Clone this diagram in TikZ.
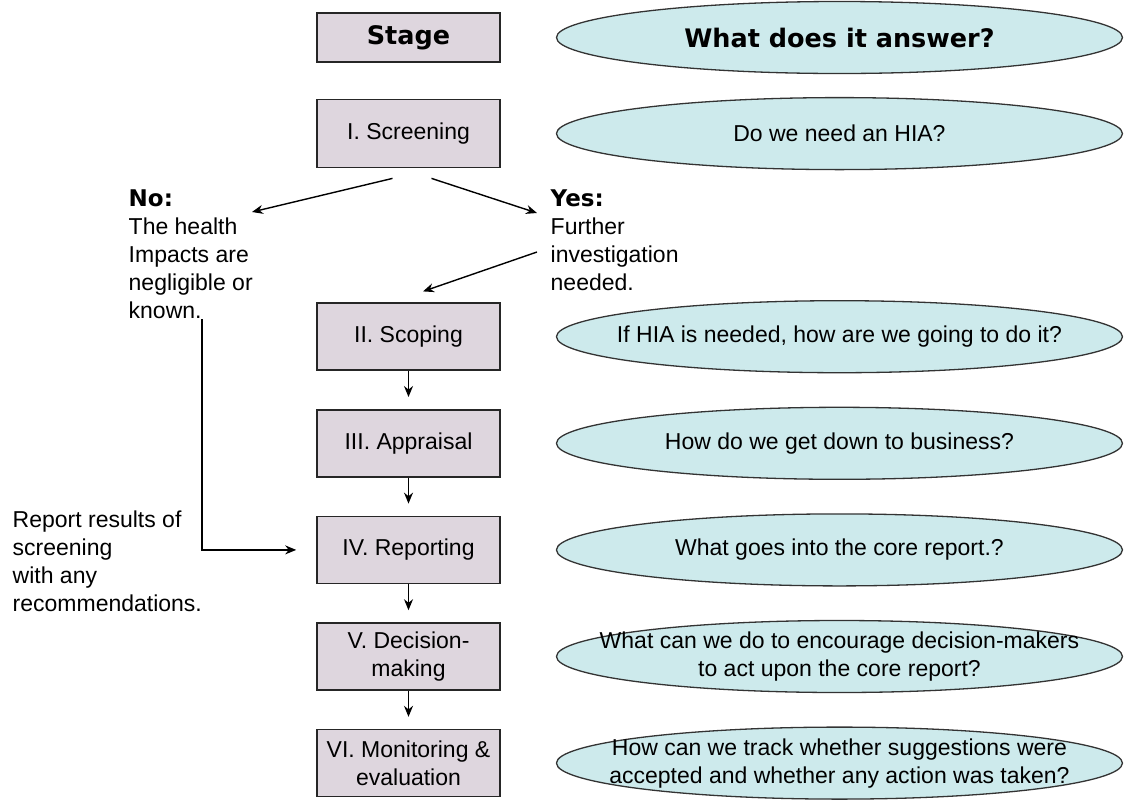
\documentclass[tikz,border=0pt]{standalone}
\usepackage{fontspec}
\setmainfont{Liberation Sans}
\newfontfamily\blackfont{DejaVu Sans}
\usetikzlibrary{shapes,arrows.meta,positioning,calc}

\definecolor{stagefill}{RGB}{222,214,222}
\definecolor{answerfill}{RGB}{205,234,236}

\tikzset{
  stagebox/.style={draw=black!85, line width=1.6pt, fill=stagefill, rectangle, minimum width=183pt, minimum height=67pt, align=center, inner sep=2pt},
  answer/.style={draw=black!80, line width=1.3pt, fill=answerfill, ellipse, minimum width=566pt, minimum height=72pt, inner xsep=-80pt, inner ysep=-6pt, align=center},
  note/.style={align=left, inner sep=0pt, anchor=north west},
  heading/.style={font=\blackfont\bfseries\fontsize{25.5}{30}\selectfont}
}

\begin{document}
\begin{tikzpicture}[x=1pt, y=-1pt, font=\fontsize{23}{28}\selectfont, >={Stealth[length=11pt,width=9pt]}, line width=1.4pt]
\useasboundingbox (0,0) rectangle (1132,801);

% Stage列
\node[stagebox, minimum height=49pt, heading] (stage) at (408.5,37.5) {Stage};
\node[stagebox, minimum height=68pt, below=36pt of stage] (screening) {I. Screening};
\node[stagebox, below=134pt of screening] (scoping) {II. Scoping};
\node[stagebox, below=38pt of scoping] (appraisal) {III. Appraisal};
\node[stagebox, below=38pt of appraisal] (reporting) {IV. Reporting};
\node[stagebox, below=38pt of reporting] (decision) {V. Decision-\\making};
\node[stagebox, below=38pt of decision] (monitoring) {VI. Monitoring \&\\evaluation};

% 问题椭圆
\node[answer, right=55pt of stage, heading] (stageq) {What does it answer?};
\node[answer, right=55pt of screening] (screeningq) {Do we need an HIA?};
\node[answer, right=55pt of scoping] (scopingq) {If HIA is needed, how are we going to do it?};
\node[answer, right=55pt of appraisal] (appraisalq) {How do we get down to business?};
\node[answer, right=55pt of reporting] (reportingq) {What goes into the core report.?};
\node[answer, right=55pt of decision] (decisionq) {What can we do to encourage decision-makers\\to act upon the core report?};
\node[answer, right=55pt of monitoring] (monitoringq) {How can we track whether suggestions were\\accepted and whether any action was taken?};

% 分支说明
\node[note] (notext) at (128,189) {{\blackfont\bfseries No:}\\The health\\Impacts are\\negligible or\\known.};
\node[note] (yestext) at (550,189) {{\blackfont\bfseries Yes:}\\Further\\investigation\\needed.};
\node[note] (reporttext) at (12,510) {Report results of\\screening\\with any\\recommendations.};

% 箭头
\draw[->] ($(screening.south)+(-16,10)$) -- ($(notext.north west)+(124,23)$);
\draw[->] ($(screening.south)+(23,10)$) -- ($(yestext.north west)+(-13,24)$);
\draw[->] ($(yestext.north west)+(-13,63)$) -- ($(scoping.north)+(14.5,-11)$);
\draw[->] ($(notext.north west)+(74,130)$) |- ($(reporting.west)+(-20,0)$);
\draw[->, shorten >=12pt] (scoping) -- (appraisal);
\draw[->, shorten >=12pt] (appraisal) -- (reporting);
\draw[->, shorten >=12pt] (reporting) -- (decision);
\draw[->, shorten >=12pt] (decision) -- (monitoring);
\end{tikzpicture}
\end{document}
